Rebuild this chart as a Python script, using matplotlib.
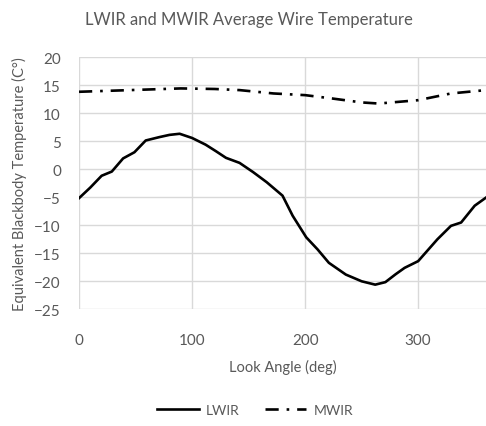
import matplotlib.pyplot as plt

# values
lwir_angle = [0, 10, 20, 29, 39, 49, 59, 71, 80, 89, 100, 112, 121, 130, 142, 154, 166,
              180, 189, 201, 211, 221, 236, 250, 262, 271, 280, 288, 300, 317, 329,
              338, 350, 360]
lwir_temp = [-5.2, -3.3, -1.2, -0.45, 1.9, 3.0, 5.1, 5.7, 6.1, 6.3, 5.55, 4.35, 3.2, 2.0,
             1.1, -0.55, -2.35, -4.75, -8.35, -12.2, -14.35, -16.75, -18.85, -20.05,
             -20.65, -20.2, -18.8, -17.65, -16.45, -12.55, -10.15, -9.55, -6.55, -5.1]
mwir_angle = [0, 30, 60, 90, 120, 142, 172, 200, 224, 250, 265, 300, 329, 360]
mwir_temp = [13.8, 14.0, 14.2, 14.4, 14.3, 14.1, 13.5, 13.2, 12.6, 11.9, 11.7, 12.3, 13.5, 14.1]

plt.rcParams['font.family'] = ['Lato', 'DejaVu Sans']
txt = '#595959'
grid = '#d9d9d9'

fig = plt.figure(figsize=(4.86, 4.27), dpi=100)
ax = fig.add_axes([0.1626, 0.274, 0.8374, 0.590])

ax.plot(lwir_angle, lwir_temp, color='black', lw=1.9, label='LWIR', zorder=3,
        solid_joinstyle='round')
ax.plot(mwir_angle, mwir_temp, color='black', lw=1.9, dashes=(5, 3, 1, 3),
        label='MWIR', zorder=3)

ax.set_xlim(0, 360)
ax.set_ylim(-25, 20)
ax.set_xticks([0, 100, 200, 300])
ax.set_yticks(range(-25, 21, 5))
ax.grid(True, color=grid, lw=1)
ax.set_axisbelow(True)
for s in ax.spines.values():
    s.set_visible(False)
ax.tick_params(length=0, labelsize=11, labelcolor=txt)
ax.tick_params(axis='x', pad=17)
ax.tick_params(axis='y', pad=13)

ax.set_title('LWIR and MWIR Average Wire Temperature', fontsize=12, color=txt,
             pad=24, x=0.418)
ax.set_xlabel('Look Angle (deg)', fontsize=10.5, color=txt, labelpad=9)
ax.set_ylabel('Equivalent Blackbody Temperature (C°)', fontsize=10.5, color=txt,
              labelpad=5)

fig.legend(loc='lower center', bbox_to_anchor=(0.525, -0.005), ncol=2, frameon=False,
           fontsize=10, labelcolor=txt, handlelength=3.0, columnspacing=1.8,
           handletextpad=0.5)

plt.savefig('out.png', dpi=100)
